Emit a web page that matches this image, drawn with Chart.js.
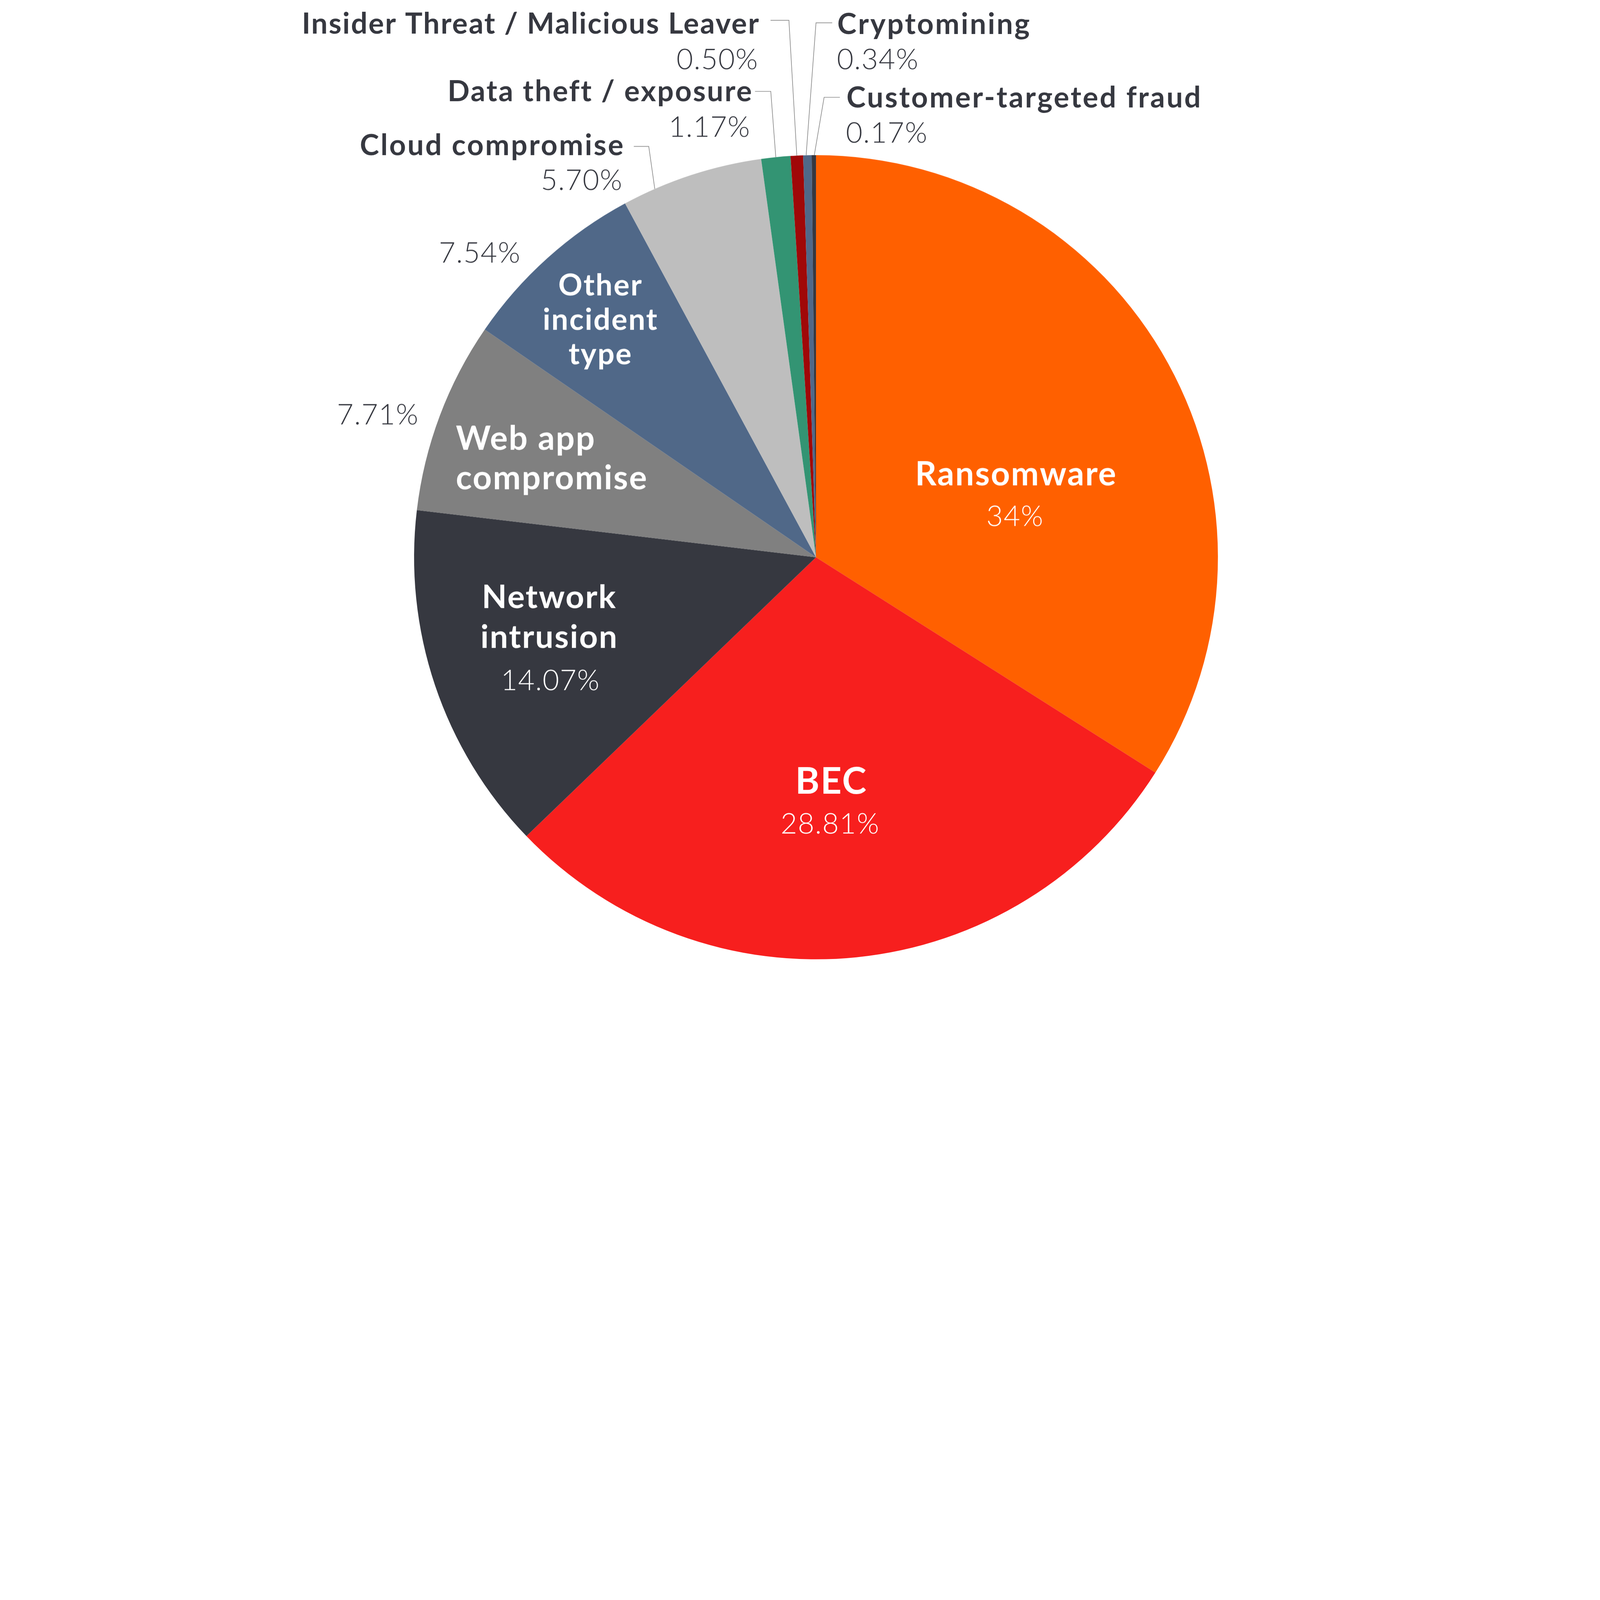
<!DOCTYPE html>
<html>
<head>
<meta charset="utf-8">
<script src="https://cdn.jsdelivr.net/npm/chart.js@4.4.1/dist/chart.umd.min.js"></script>
<style>
  html, body { margin: 0; padding: 0; background: #fff; overflow: hidden; }
  #wrap { position: relative; }
</style>
</head>
<body>
<div id="wrap"><canvas id="pie"></canvas></div>
<script>
// data
const categories = [
  'Ransomware', 'BEC', 'Network intrusion', 'Web app compromise', 'Other incident type',
  'Cloud compromise', 'Data theft / exposure', 'Insider Threat / Malicious Leaver',
  'Cryptomining', 'Customer-targeted fraud'
];
const shares = [34, 28.81, 14.07, 7.71, 7.54, 5.70, 1.17, 0.50, 0.34, 0.17];
const sliceColors = [
  '#ff6000', '#f71f1e', '#363840', '#808080', '#506888',
  '#bebebe', '#339473', '#a00808', '#506888', '#363840'
];

const DARK = '#363840';
const FONT = 'Lato, "Open Sans", sans-serif';

const fmtShare = (v) => (Number.isInteger(v) ? v : v.toFixed(2)) + '%';

// layout is given for a 7500 x 4500 picture and scaled to the window
const S = Math.min(window.innerWidth / 7500, window.innerHeight / 4500);
const wrap = document.getElementById('wrap');
wrap.style.width = (7500 * S) + 'px';
wrap.style.height = (4500 * S) + 'px';

// where each slice's text goes (name lines + percentage)
const labelLayout = [
  { lines: ['Ransomware'], align: 'center', x: 4763, y: 2274, size: 156, gap: 186, spacing: 5, color: '#fff',
    pct: { x: 4758, y: 2464, align: 'center', color: '#fff' } },
  { lines: ['BEC'], align: 'center', x: 3897, y: 3718, size: 172, gap: 186, spacing: 5, color: '#fff',
    pct: { x: 3891, y: 3905, align: 'center', color: '#fff' } },
  { lines: ['Network', 'intrusion'], align: 'center', x: 2575, y: 2849, size: 152, gap: 186, spacing: 5, color: '#fff',
    pct: { x: 2580, y: 3234, align: 'center', color: '#fff' } },
  { lines: ['Web app', 'compromise'], align: 'left', x: 2137, y: 2107, size: 156, gap: 186, spacing: 5, color: '#fff',
    pct: { x: 1963, y: 1989, align: 'right', color: DARK } },
  { lines: ['Other', 'incident', 'type'], align: 'center', x: 2815, y: 1385, size: 140, gap: 161, spacing: 5, color: '#fff',
    pct: { x: 2441, y: 1231, align: 'right', color: DARK } },
  { lines: ['Cloud compromise'], align: 'right', x: 2929, y: 727, size: 136, gap: 0, spacing: 7, color: DARK,
    pct: { x: 2919, y: 889, align: 'right', color: DARK },
    leader: { x1: 2971, x2: 3041, y: 686, frac: 0.23 } },
  { lines: ['Data theft / exposure'], align: 'right', x: 3530, y: 475, size: 136, gap: 0, spacing: 6, color: DARK,
    pct: { x: 3518, y: 641, align: 'right', color: DARK },
    leader: { x1: 3539, x2: 3613, y: 428, frac: 0.5 } },
  { lines: ['Insider Threat / Malicious Leaver'], align: 'right', x: 3562, y: 158, size: 136, gap: 0, spacing: 5, color: DARK,
    pct: { x: 3555, y: 325, align: 'right', color: DARK },
    leader: { x1: 3612, x2: 3698, y: 95, frac: 0.5 } },
  { lines: ['Cryptomining'], align: 'left', x: 3925, y: 159, size: 136, gap: 0, spacing: 7, color: DARK,
    pct: { x: 3923, y: 324, align: 'left', color: DARK },
    leader: { x1: 3901, x2: 3825, y: 107, frac: 0.35 } },
  { lines: ['Customer-targeted fraud'], align: 'left', x: 3968, y: 503, size: 136, gap: 0, spacing: 7, color: DARK,
    pct: { x: 3965, y: 668, align: 'left', color: DARK },
    leader: { x1: 3937, x2: 3863, y: 456, frac: 0.6 } }
];

// draws names, percentages and leader lines off the arc elements
const sliceLabels = {
  id: 'sliceLabels',
  afterDatasetsDraw(chart) {
    const ctx = chart.ctx;
    const arcs = chart.getDatasetMeta(0).data;
    ctx.save();
    ctx.textBaseline = 'alphabetic';
    labelLayout.forEach((lab, i) => {
      const arc = arcs[i];
      if (lab.leader) {
        const { x, y, startAngle, endAngle, outerRadius } =
          arc.getProps(['x', 'y', 'startAngle', 'endAngle', 'outerRadius'], true);
        const a = startAngle + (endAngle - startAngle) * lab.leader.frac;
        ctx.beginPath();
        ctx.strokeStyle = '#8a8a8a';
        ctx.lineWidth = 3 * S;
        ctx.moveTo(lab.leader.x1 * S, lab.leader.y * S);
        ctx.lineTo(lab.leader.x2 * S, lab.leader.y * S);
        ctx.lineTo(x + outerRadius * Math.cos(a), y + outerRadius * Math.sin(a));
        ctx.stroke();
      }
      ctx.font = `700 ${lab.size * S}px ${FONT}`;
      ctx.fillStyle = lab.color;
      ctx.textAlign = lab.align;
      ctx.letterSpacing = (lab.spacing * S) + 'px';
      lab.lines.forEach((line, k) => {
        ctx.fillText(line, lab.x * S, (lab.y + k * lab.gap) * S);
      });
      ctx.font = `300 ${134 * S}px ${FONT}`;
      ctx.fillStyle = lab.pct.color;
      ctx.textAlign = lab.pct.align;
      ctx.letterSpacing = (3 * S) + 'px';
      ctx.fillText(fmtShare(shares[i]), lab.pct.x * S, lab.pct.y * S);
      ctx.letterSpacing = '0px';
    });
    ctx.restore();
  }
};

new Chart(document.getElementById('pie'), {
  type: 'pie',
  data: {
    labels: categories,
    datasets: [{
      data: shares,
      backgroundColor: sliceColors,
      borderWidth: 0
    }]
  },
  options: {
    responsive: true,
    maintainAspectRatio: false,
    animation: false,
    layout: { padding: { top: 727 * S, bottom: 5 * S, left: 1941 * S, right: 1791 * S } },
    plugins: {
      legend: { display: false },
      tooltip: { enabled: false }
    }
  },
  plugins: [sliceLabels]
});
</script>
</body>
</html>
